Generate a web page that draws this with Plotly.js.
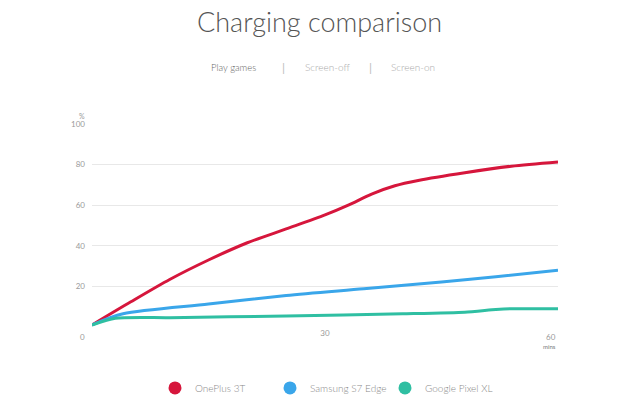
<!DOCTYPE html>
<html>
<head>
<meta charset="utf-8">
<script src="https://cdn.plot.ly/plotly-3.0.1.min.js"></script>
<style>
  body { margin: 0; background: #fff; }
  #chart { width: 640px; height: 419px; }
</style>
</head>
<body>
<div id="chart"></div>
<script>
        // minutes on the x axis, % charge on the y axis
        const phones = ['OnePlus 3T', 'Samsung S7 Edge', 'Google Pixel XL'];
        const colors = ['#d6163c', '#3aa6ea', '#2fbfa2'];

        const oneplusMin = [0, 5, 10, 15, 20, 25, 30, 33, 36, 39, 42, 48, 54, 60];
        const oneplusPct = [1, 12.4, 23.4, 33, 41.5, 48.3, 55.2, 60, 65.5, 69.6, 72.2, 76, 79.2, 81.3];

        const samsungMin = [0, 4, 15, 25, 35, 45, 52, 60];
        const samsungPct = [1, 6.5, 11.3, 15.5, 18.8, 22.2, 24.7, 28];

        const pixelMin = [0, 3, 10, 25, 40, 48, 52, 54, 60];
        const pixelPct = [1, 4.3, 4.6, 5.4, 6.5, 7.3, 8.6, 9.0, 9.0];

        const tabs = ['Play games', 'Screen-off', 'Screen-on'];
        const yTicks = [0, 20, 40, 60, 80, 100];
        const yLabels = ['', '20', '40', '60', '80', '100'];

        const xs = [oneplusMin, samsungMin, pixelMin];
        const ys = [oneplusPct, samsungPct, pixelPct];
        const smooth = [0.8, 0.8, 0.6];

        let traces = [];
        // the curves themselves
        for (let i = 0; i < phones.length; i++) {
                traces.push({
                        x: xs[i],
                        y: ys[i],
                        type: 'scatter',
                        mode: 'lines',
                        line: { color: colors[i], width: 3, shape: 'spline', smoothing: smooth[i] },
                        showlegend: false,
                        hoverinfo: 'skip',
                });
        }
        // round legend markers
        for (let i = 0; i < phones.length; i++) {
                traces.push({
                        x: [null],
                        y: [null],
                        type: 'scatter',
                        mode: 'markers',
                        name: phones[i],
                        marker: { color: colors[i], size: 13 },
                });
        }

        const grey = '#9a9a9a';
        let layout = {
                width: 640,
                height: 419,
                margin: { l: 92, r: 82, t: 124, b: 92 },
                paper_bgcolor: '#fff',
                plot_bgcolor: '#fff',
                font: { family: 'Lato, sans-serif', color: grey, size: 8 },
                xaxis: {
                        range: [0, 60],
                        tickvals: [30],
                        ticktext: ['30'],
                        showgrid: false,
                        zeroline: false,
                        showline: false,
                        ticks: '',
                        fixedrange: true,
                        tickfont: { size: 8, color: grey },
                },
                yaxis: {
                        range: [0, 100],
                        tickvals: yTicks,
                        ticktext: yLabels,
                        showgrid: true,
                        gridcolor: '#e8e8e8',
                        gridwidth: 1,
                        zeroline: false,
                        showline: false,
                        ticks: '',
                        ticklabelstandoff: 6,
                        fixedrange: true,
                        tickfont: { size: 8, color: grey },
                },
                showlegend: true,
                legend: {
                        orientation: 'h',
                        x: (155 - 92) / 466,
                        xanchor: 'left',
                        y: -0.3,
                        yanchor: 'middle',
                        font: { size: 10, color: '#8a8a8a', weight: 300 },
                        itemwidth: 30,
                        entrywidth: 70,
                },
                annotations: [
                        { text: 'Charging comparison', xref: 'paper', yref: 'paper', x: 0.488, y: 1.506,
                          xanchor: 'center', yanchor: 'middle', showarrow: false,
                          font: { family: 'Lato, sans-serif', size: 27, color: '#555', weight: 300 } },
                        { text: tabs[0], xref: 'paper', yref: 'paper', x: (233 - 92) / 466, y: (327 - 67) / 203,
                          xanchor: 'center', yanchor: 'middle', showarrow: false, font: { size: 9.5, color: '#666', weight: 300 } },
                        { text: '|', xref: 'paper', yref: 'paper', x: (283 - 92) / 466, y: (327 - 67) / 203,
                          xanchor: 'center', yanchor: 'middle', showarrow: false, font: { size: 12, color: '#bbb' } },
                        { text: tabs[1], xref: 'paper', yref: 'paper', x: (327 - 92) / 466, y: (327 - 67) / 203,
                          xanchor: 'center', yanchor: 'middle', showarrow: false, font: { size: 10, color: '#aaa', weight: 300 } },
                        { text: '|', xref: 'paper', yref: 'paper', x: (370 - 92) / 466, y: (327 - 67) / 203,
                          xanchor: 'center', yanchor: 'middle', showarrow: false, font: { size: 12, color: '#bbb' } },
                        { text: tabs[2], xref: 'paper', yref: 'paper', x: (413 - 92) / 466, y: (327 - 67) / 203,
                          xanchor: 'center', yanchor: 'middle', showarrow: false, font: { size: 10, color: '#aaa', weight: 300 } },
                        { text: '%', xref: 'paper', yref: 'y', x: 0, y: 100, xshift: -10, yshift: 8,
                          xanchor: 'center', yanchor: 'middle', showarrow: false, font: { size: 7, color: grey } },
                        { text: '0', xref: 'x', yref: 'y', x: 0, y: 0, xshift: -10, yshift: -10,
                          xanchor: 'center', yanchor: 'middle', showarrow: false, font: { size: 8, color: grey } },
                        { text: '60', xref: 'x', yref: 'y', x: 60, y: 0, yshift: -10,
                          xanchor: 'right', yanchor: 'middle', showarrow: false, font: { size: 8, color: grey } },
                        { text: 'mins', xref: 'x', yref: 'y', x: 60, y: 0, yshift: -19,
                          xanchor: 'right', yanchor: 'middle', showarrow: false, font: { size: 6, color: '#777' } },
                ],
        };

        Plotly.newPlot(document.getElementById('chart'), traces, layout, { displayModeBar: false, staticPlot: true });
</script>
</body>
</html>
